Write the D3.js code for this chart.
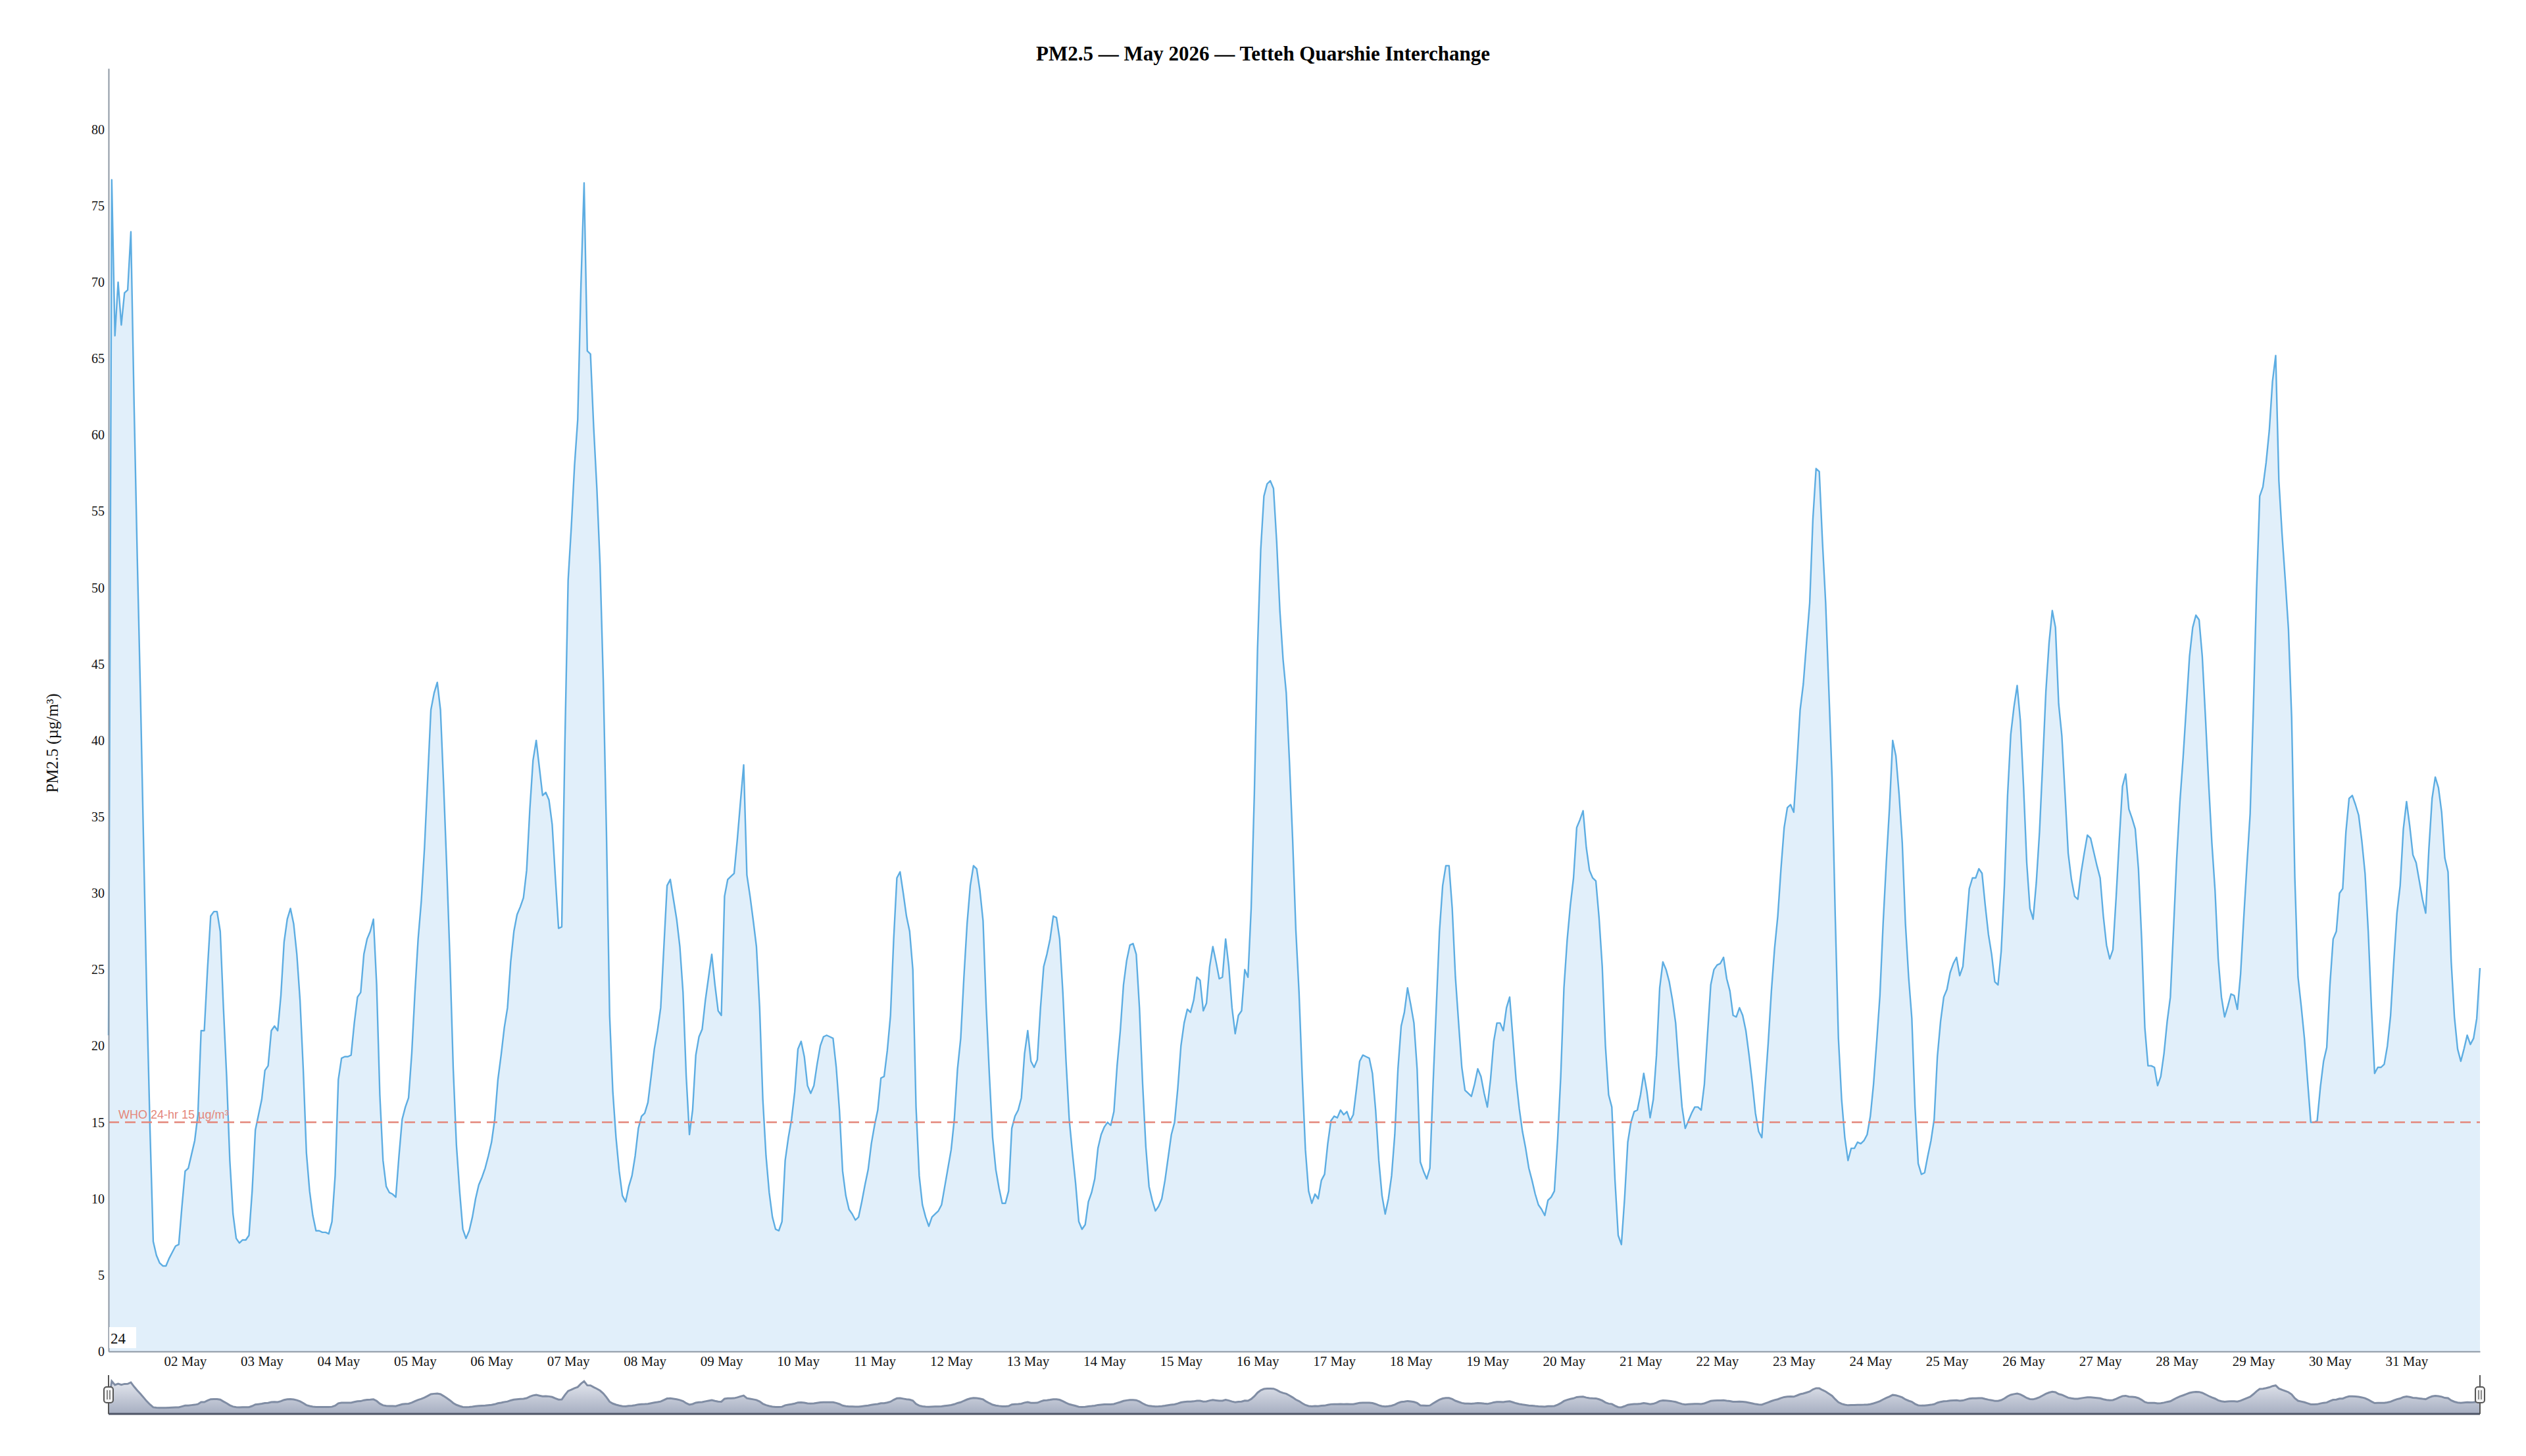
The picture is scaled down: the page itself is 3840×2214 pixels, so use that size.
<!DOCTYPE html>
<html lang="en">
<head>
<meta charset="UTF-8">
<title>PM2.5 — May 2026 — Tetteh Quarshie Interchange</title>
<style>
  body { margin: 0; background: #fff; }
  svg { display: block; }
</style>
</head>
<body>
<script src="https://d3js.org/d3.v7.min.js"></script>
<script>
// hourly PM2.5 (µg/m³), first value = 01 May 2026 00:00, one row per day
var week1 = [
  20.7, 76.7, 66.5, 70.0, 67.2, 69.3, 69.5, 73.3, 62.0, 52.0, 43.0, 33.0, 23.0, 14.5, 7.2, 6.3, 5.8, 5.6, 5.6, 6.1, 6.5, 6.9, 7.0, 9.5,   // 01 May
  11.8, 12.0, 12.9, 13.8, 15.5, 21.0, 21.0, 25.0, 28.5, 28.8, 28.8, 27.5, 22.5, 18.0, 12.5, 9.0, 7.4, 7.1, 7.3, 7.3, 7.6, 10.5, 14.5, 15.5, // 02 May
  16.5, 18.4, 18.7, 21.0, 21.3, 21.0, 23.3, 26.8, 28.3, 29.0, 28.0, 26.0, 23.0, 18.5, 13.0, 10.5, 8.9, 7.9, 7.9, 7.8, 7.8, 7.7, 8.5, 11.5,  // 03 May
  17.8, 19.2, 19.3, 19.3, 19.4, 21.5, 23.2, 23.5, 26.0, 27.0, 27.5, 28.3, 24.0, 16.8, 12.5, 10.8, 10.4, 10.3, 10.1, 12.8, 15.2, 16.0, 16.6, 19.5, // 04 May
  23.5, 27.0, 29.5, 33.0, 37.5, 42.0, 43.1, 43.8, 42.0, 37.0, 31.5, 25.5, 18.5, 13.5, 10.5, 8.0, 7.4, 7.9, 8.8, 10.0, 10.9, 11.4, 12.0, 12.8,  // 05 May
  13.7, 15.2, 17.8, 19.4, 21.2, 22.5, 25.5, 27.5, 28.6, 29.1, 29.7, 31.5, 35.5, 38.7, 40.0, 38.2, 36.4, 36.6, 36.1, 34.5, 31.0, 27.7, 27.8, 40.0, // 06 May
  50.5, 54.0, 58.0, 61.0, 69.7, 76.5, 65.5, 65.3, 60.5, 56.5, 51.5, 44.0, 34.0, 22.0, 17.0, 14.0, 11.8, 10.2, 9.8, 10.8, 11.5, 12.8, 14.6, 15.4  // 07 May
];
var week2 = [
  15.6, 16.3, 18.0, 19.8, 21.0, 22.5, 26.5, 30.5, 30.9, 29.6, 28.3, 26.5, 23.5, 18.0, 14.2, 15.8, 19.4, 20.6, 21.1, 23.0, 24.5, 26.0, 24.0, 22.3, // 08 May
  22.0, 29.8, 30.9, 31.1, 31.3, 33.5, 36.0, 38.4, 31.2, 29.8, 28.2, 26.5, 22.5, 16.5, 12.8, 10.4, 8.8, 8.0, 7.9, 8.5, 12.5, 14.0, 15.2, 17.0,  // 09 May
  19.8, 20.3, 19.3, 17.4, 16.9, 17.4, 18.8, 20.0, 20.6, 20.7, 20.6, 20.5, 18.6, 15.8, 11.8, 10.2, 9.3, 9.0, 8.6, 8.8, 9.8, 10.9, 11.9, 13.6,   // 10 May
  14.8, 15.8, 17.9, 18.0, 19.7, 22.0, 27.0, 31.0, 31.4, 30.0, 28.5, 27.5, 25.0, 16.0, 11.5, 9.6, 8.8, 8.2, 8.8, 9.0, 9.2, 9.6, 10.8, 12.0,    // 11 May
  13.2, 15.2, 18.5, 20.5, 24.5, 28.0, 30.5, 31.8, 31.6, 30.2, 28.2, 22.5, 18.0, 14.0, 11.9, 10.7, 9.7, 9.7, 10.5, 14.6, 15.4, 15.8, 16.6, 19.5, // 12 May
  21.0, 19.0, 18.6, 19.1, 22.5, 25.2, 26.0, 27.0, 28.5, 28.4, 27.0, 23.5, 19.0, 15.2, 13.0, 11.0, 8.5, 8.0, 8.3, 9.8, 10.4, 11.3, 13.3, 14.2,  // 13 May
  14.7, 15.0, 14.8, 15.7, 18.7, 21.0, 24.0, 25.6, 26.6, 26.7, 26.0, 22.5, 17.5, 13.4, 10.8, 9.9, 9.2, 9.5, 10.0, 11.2, 12.7, 14.2, 15.0, 17.2   // 14 May
];
var week3 = [
  20.0, 21.5, 22.4, 22.2, 23.0, 24.5, 24.3, 22.3, 22.8, 25.2, 26.5, 25.5, 24.4, 24.5, 27.0, 25.2, 22.5, 20.8, 22.0, 22.3, 25.0, 24.5, 29.0, 36.5, // 15 May
  46.0, 52.5, 56.0, 56.8, 57.0, 56.5, 53.0, 48.5, 45.3, 43.1, 38.6, 33.5, 27.6, 23.5, 18.0, 13.2, 10.5, 9.7, 10.3, 10.0, 11.2, 11.6, 13.6, 15.1, // 16 May
  15.4, 15.3, 15.8, 15.5, 15.7, 15.1, 15.5, 17.2, 19.0, 19.4, 19.3, 19.2, 18.2, 15.8, 12.5, 10.2, 9.0, 10.0, 11.5, 14.2, 18.5, 21.3, 22.2, 23.8, // 17 May
  22.7, 21.5, 18.5, 12.4, 11.8, 11.3, 12.0, 17.5, 22.5, 27.5, 30.5, 31.8, 31.8, 29.0, 24.5, 21.5, 18.6, 17.1, 16.9, 16.7, 17.5, 18.5, 18.0, 16.9, // 18 May
  16.0, 17.8, 20.3, 21.5, 21.5, 21.0, 22.5, 23.2, 20.5, 17.8, 15.9, 14.4, 13.3, 12.0, 11.2, 10.3, 9.6, 9.3, 8.9, 9.9, 10.1, 10.5, 13.8, 18.0,   // 19 May
  23.8, 26.9, 29.2, 31.0, 34.3, 34.8, 35.4, 33.0, 31.5, 31.0, 30.8, 28.4, 25.2, 20.0, 16.8, 16.0, 11.2, 7.6, 7.0, 10.0, 13.7, 15.0, 15.7, 15.8,  // 20 May
  16.8, 18.2, 17.0, 15.3, 16.5, 19.4, 23.8, 25.5, 25.0, 24.2, 23.0, 21.5, 18.6, 16.0, 14.6, 15.1, 15.6, 16.0, 16.0, 15.8, 17.5, 20.8, 24.0, 25.0  // 21 May
];
var week4 = [
  25.3, 25.4, 25.8, 24.4, 23.6, 22.0, 21.9, 22.5, 22.0, 21.0, 19.4, 17.6, 15.6, 14.4, 14.0, 17.2, 20.2, 23.6, 26.4, 28.5, 31.6, 34.3, 35.6, 35.8, // 22 May
  35.3, 38.5, 42.0, 43.7, 46.4, 49.0, 54.5, 57.8, 57.6, 53.0, 49.0, 43.3, 37.6, 28.5, 20.5, 16.5, 14.0, 12.5, 13.3, 13.3, 13.7, 13.6, 13.8, 14.2, // 23 May
  15.4, 17.5, 20.3, 23.3, 28.0, 32.0, 35.6, 40.0, 39.0, 36.5, 33.3, 28.0, 24.5, 21.8, 16.0, 12.3, 11.6, 11.7, 12.8, 13.8, 15.2, 19.3, 21.6, 23.2, // 24 May
  23.7, 24.8, 25.4, 25.8, 24.6, 25.2, 27.7, 30.3, 31.0, 31.0, 31.6, 31.3, 29.2, 27.3, 26.0, 24.2, 24.0, 26.2, 30.5, 36.4, 40.4, 42.2, 43.6, 41.3, // 25 May
  37.0, 32.0, 29.0, 28.3, 30.7, 34.0, 38.5, 43.2, 46.4, 48.5, 47.4, 42.4, 40.3, 36.5, 32.6, 30.9, 29.8, 29.6, 31.3, 32.6, 33.8, 33.6, 32.7, 31.8, // 26 May
  31.0, 28.5, 26.6, 25.7, 26.3, 29.7, 33.5, 37.0, 37.8, 35.5, 34.9, 34.2, 31.6, 27.0, 21.2, 18.7, 18.7, 18.6, 17.4, 18.0, 19.5, 21.6, 23.2, 27.7, // 27 May
  32.3, 36.0, 38.9, 42.2, 45.5, 47.4, 48.2, 47.9, 45.5, 41.5, 37.2, 33.3, 30.2, 25.7, 23.2, 21.9, 22.6, 23.4, 23.3, 22.4, 24.7, 28.4, 31.9, 35.2  // 28 May
];
var week5 = [
  42.0, 49.8, 56.0, 56.6, 58.2, 60.3, 63.5, 65.2, 57.0, 53.5, 50.5, 47.3, 41.5, 31.0, 24.5, 22.6, 20.5, 17.7, 15.0, 15.0, 15.1, 17.3, 19.0, 19.9, // 29 May
  24.0, 27.0, 27.5, 30.0, 30.3, 34.0, 36.2, 36.4, 35.8, 35.1, 33.4, 31.3, 27.5, 22.5, 18.2, 18.6, 18.6, 18.8, 20.0, 22.0, 25.5, 28.7, 30.5, 34.2, // 30 May
  36.0, 34.4, 32.5, 32.0, 30.8, 29.6, 28.7, 32.9, 36.2, 37.6, 36.9, 35.3, 32.3, 31.4, 25.5, 21.9, 19.8, 19.0, 19.8, 20.7, 20.1, 20.5, 21.8, 25.1  // 31 May
];

var startTime = Date.UTC(2026, 4, 1, 0);
var yTicks = [0, 5, 10, 15, 20, 25, 30, 35, 40, 45, 50, 55, 60, 65, 70, 75, 80];
var yMax = 84;
var whoLimit = 15;
var whoLabel = "WHO 24-hr 15 µg/m³";
var windowLabel = "24";
var titleText = "PM2.5 — May 2026 — Tetteh Quarshie Interchange";
var yLabel = "PM2.5 (µg/m³)";

var width = 3840, height = 2214;
var plot = {left: 165, right: 3770, top: 104, bottom: 2055};
var nav = {top: 2091, bottom: 2150, lineTop: 2096, lineBottom: 2144};
var serif = "'Liberation Serif', 'Times New Roman', serif";

var values = week1.concat(week2, week3, week4, week5);
var series = values.map(function(v, i) {
	return {t: new Date(startTime + i * 3600 * 1000), v: v};
});

var svg = d3.select("body").append("svg")
	.attr("width", width)
	.attr("height", height)
	.style("font-family", serif);

var x = d3.scaleUtc()
	.domain(d3.extent(series, function(d) { return d.t; }))
	.range([plot.left, plot.right]);
var y = d3.scaleLinear()
	.domain([0, yMax])
	.range([plot.bottom, plot.top]);

// title
svg.append("text")
	.attr("x", width / 2).attr("y", 92)
	.attr("text-anchor", "middle")
	.attr("font-size", 31).attr("font-weight", "bold")
	.attr("fill", "#000")
	.text(titleText);

// area + line
svg.append("path").datum(series)
	.attr("fill", "#e1effa")
	.attr("d", d3.area()
		.x(function(d) { return x(d.t); })
		.y0(y(0))
		.y1(function(d) { return y(d.v); }));

svg.append("path").datum(series)
	.attr("fill", "none")
	.attr("stroke", "#5dade2")
	.attr("stroke-width", 2.4)
	.attr("stroke-linejoin", "round")
	.attr("d", d3.line()
		.x(function(d) { return x(d.t); })
		.y(function(d) { return y(d.v); }));

// WHO guideline
svg.append("line")
	.attr("x1", plot.left).attr("x2", plot.right)
	.attr("y1", y(whoLimit)).attr("y2", y(whoLimit))
	.attr("stroke", "#e4877b").attr("stroke-width", 2.5)
	.attr("stroke-dasharray", "16,9");
svg.append("text")
	.attr("x", plot.left + 15).attr("y", y(whoLimit) - 6)
	.attr("font-family", "'Liberation Sans', Arial, sans-serif")
	.attr("font-size", 18)
	.attr("fill", "#e4877b")
	.text(whoLabel);

// axes
var yAxis = svg.append("g")
	.attr("transform", "translate(" + plot.left + ",0)")
	.call(d3.axisLeft(y).tickValues(yTicks).tickSize(0).tickSizeOuter(0).tickPadding(6));
yAxis.selectAll("text").attr("font-size", 20).attr("font-family", serif).attr("fill", "#111");
yAxis.select(".domain").attr("stroke", "#8d97a3").attr("stroke-width", 2);

var dayTicks = d3.utcDay.range(new Date(Date.UTC(2026, 4, 2)), new Date(Date.UTC(2026, 5, 1)));
var xAxis = svg.append("g")
	.attr("transform", "translate(0," + plot.bottom + ")")
	.call(d3.axisBottom(x).tickValues(dayTicks).tickFormat(d3.utcFormat("%d %b"))
		.tickSize(0).tickSizeOuter(0).tickPadding(7));
xAxis.selectAll("text").attr("font-size", 21).attr("font-family", serif).attr("fill", "#111");
xAxis.select(".domain").attr("stroke", "#8d97a3").attr("stroke-width", 2);

// y label
svg.append("text")
	.attr("transform", "translate(79,1130) rotate(-90)")
	.attr("text-anchor", "middle")
	.attr("dy", "0.35em")
	.attr("font-size", 25)
	.attr("fill", "#111")
	.text(yLabel);

// rolling window box
svg.append("rect")
	.attr("x", plot.left + 1).attr("y", 2018)
	.attr("width", 41).attr("height", 32)
	.attr("fill", "#fff");
svg.append("text")
	.attr("x", plot.left + 3).attr("y", 2043)
	.attr("font-size", 23).attr("fill", "#111")
	.text(windowLabel);

// navigator
var navY = d3.scaleLinear().domain([0, yMax]).range([nav.lineBottom, nav.lineTop]);
var grad = svg.append("defs").append("linearGradient")
	.attr("id", "navFill").attr("x1", 0).attr("x2", 0).attr("y1", 0).attr("y2", 1);
grad.append("stop").attr("offset", "0%").attr("stop-color", "#e4e7ee");
grad.append("stop").attr("offset", "100%").attr("stop-color", "#a6aec1");

svg.append("path").datum(series)
	.attr("fill", "url(#navFill)")
	.attr("d", d3.area()
		.x(function(d) { return x(d.t); })
		.y0(nav.bottom)
		.y1(function(d) { return navY(d.v); }));
svg.append("path").datum(series)
	.attr("fill", "none")
	.attr("stroke", "#808da4")
	.attr("stroke-width", 3)
	.attr("d", d3.line()
		.x(function(d) { return x(d.t); })
		.y(function(d) { return navY(d.v); }));
svg.append("line")
	.attr("x1", plot.left).attr("x2", plot.right)
	.attr("y1", nav.bottom).attr("y2", nav.bottom)
	.attr("stroke", "#4e5566").attr("stroke-width", 3);

[plot.left, plot.right].forEach(function(hx) {
	svg.append("line")
		.attr("x1", hx).attr("x2", hx)
		.attr("y1", nav.top).attr("y2", nav.bottom)
		.attr("stroke", "#555").attr("stroke-width", 2);
	svg.append("rect")
		.attr("x", hx - 7).attr("y", 2109)
		.attr("width", 14).attr("height", 24).attr("rx", 4)
		.attr("fill", "#f4f4f4").attr("stroke", "#555").attr("stroke-width", 2);
	[-2, 2].forEach(function(off) {
		svg.append("line")
			.attr("x1", hx + off).attr("x2", hx + off)
			.attr("y1", 2114).attr("y2", 2128)
			.attr("stroke", "#666").attr("stroke-width", 1.5);
	});
});
</script>
</body>
</html>
